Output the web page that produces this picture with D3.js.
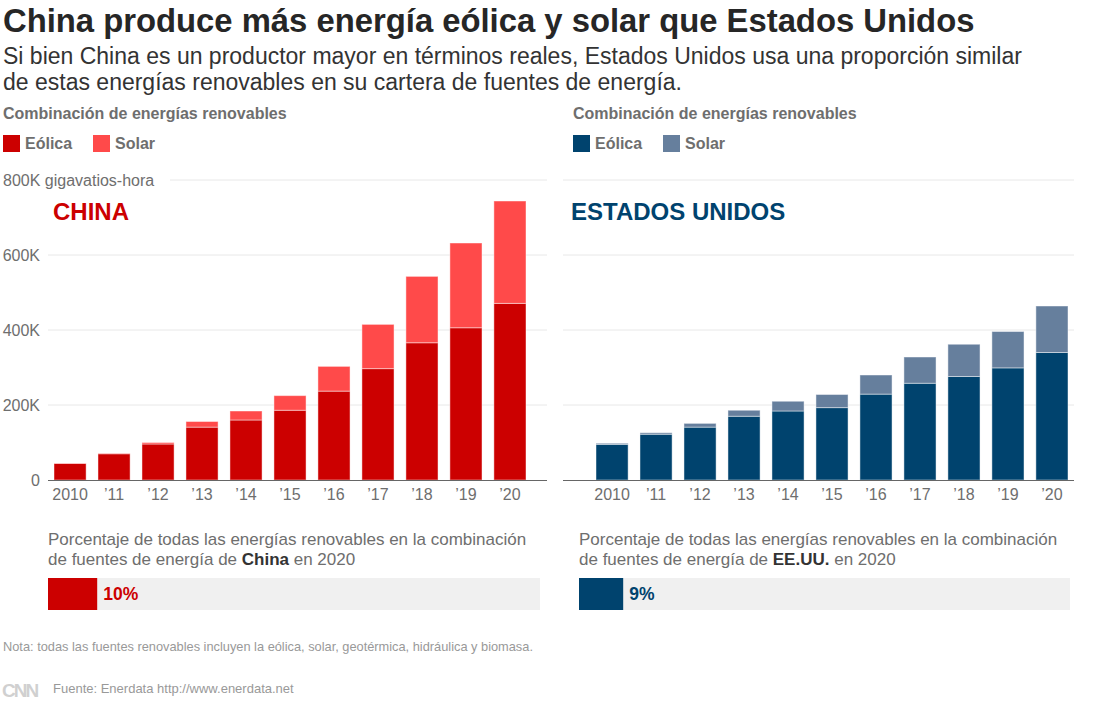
<!DOCTYPE html>
<html>
<head>
<meta charset="utf-8">
<script src="https://cdn.jsdelivr.net/npm/d3@7"></script>
<style>
  body { margin: 0; background: #fff; }
  svg { display: block; font-family: "Liberation Sans", Arial, sans-serif; }
  .tick-label { fill: #6e6e6e; font-size: 16px; }
  .grid { stroke: #e8e8e8; stroke-width: 1; }
</style>
</head>
<body>
<svg width="1110" height="709"></svg>
<script>
// values in thousands of gigawatt-hours
const years = ["2010", "’11", "’12", "’13", "’14", "’15", "’16", "’17", "’18", "’19", "’20"];
const chinaWind = [44, 70, 96, 141, 160, 186, 237, 297, 366, 406, 471];
const chinaSolar = [1, 1, 4, 15, 24, 39, 66, 118, 177, 226, 273];
const usWind = [95, 122, 141, 170, 184, 193, 229, 258, 276, 299, 340];
const usSolar = [3, 4, 10, 16, 26, 35, 51, 70, 86, 97, 124];
const yTicks = [0, 200, 400, 600, 800];
const shares = [10, 9];

const svg = d3.select("svg");

const yScale = d3.scaleLinear().domain([0, 800]).range([480, 180]);

// header
svg.append("text")
  .attr("x", 3).attr("y", 32)
  .style("font-size", "32.8px").style("font-weight", "bold").style("fill", "#262626")
  .text("China produce más energía eólica y solar que Estados Unidos");

const subLines = [
  "Si bien China es un productor mayor en términos reales, Estados Unidos usa una proporción similar",
  "de estas energías renovables en su cartera de fuentes de energía."
];
svg.selectAll("text.sub")
  .data(subLines)
  .enter()
  .append("text")
  .attr("class", "sub")
  .attr("x", 3)
  .attr("y", (d, i) => 64 + i * 26)
  .style("font-size", "23px").style("fill", "#333")
  .text(d => d);

const panels = [
  { name: "CHINA", label: "China", wind: chinaWind, solar: chinaSolar, share: shares[0],
    colors: ["#cc0000", "#ff4a4a"], left: 48, right: 547, bars: [54, 526], legendX: 3, nameX: 53,
    shareX: [48, 540], yLabels: true },
  { name: "ESTADOS UNIDOS", label: "EE.UU.", wind: usWind, solar: usSolar, share: shares[1],
    colors: ["#00436e", "#667f9d"], left: 563, right: 1074, bars: [596, 1068], legendX: 573, nameX: 571,
    shareX: [579, 1070], yLabels: false }
];

panels.forEach(p => {
  const g = svg.append("g");

  g.append("text")
    .attr("x", p.legendX).attr("y", 119)
    .style("font-size", "16px").style("font-weight", "bold").style("fill", "#6e6e6e")
    .text("Combinación de energías renovables");

  const legend = g.selectAll("g.legend")
    .data(["Eólica", "Solar"])
    .enter()
    .append("g")
    .attr("class", "legend")
    .attr("transform", (d, i) => `translate(${p.legendX + i * 90}, 135)`);
  legend.append("rect")
    .attr("width", 17).attr("height", 17)
    .style("fill", (d, i) => p.colors[i]);
  legend.append("text")
    .attr("x", 22).attr("y", 14)
    .style("font-size", "16px").style("font-weight", "bold").style("fill", "#6e6e6e")
    .text(d => d);

  // gridlines
  g.selectAll("line.grid")
    .data(yTicks.filter(d => d > 0))
    .enter()
    .append("line")
    .attr("class", "grid")
    .attr("x1", d => (d === 800 && p.yLabels) ? 170 : p.left)
    .attr("x2", p.right)
    .attr("y1", d => yScale(d)).attr("y2", d => yScale(d));

  if (p.yLabels) {
    g.selectAll("text.ylab")
      .data(yTicks)
      .enter()
      .append("text")
      .attr("class", "tick-label ylab")
      .attr("x", d => d === 800 ? 3 : 40)
      .attr("y", d => yScale(d) + 6)
      .attr("text-anchor", d => d === 800 ? "start" : "end")
      .text(d => d === 0 ? "0" : d === 800 ? "800K gigavatios-hora" : d + "K");
  }

  g.append("text")
    .attr("x", p.nameX).attr("y", 220)
    .style("font-size", "24px").style("font-weight", "bold").style("fill", p.colors[0])
    .text(p.name);

  const xScale = d3.scaleBand()
    .domain(years)
    .range(p.bars)
    .paddingInner(0.27)
    .paddingOuter(0);

  const stacked = d3.stack().keys([0, 1])(years.map((y, i) => [p.wind[i], p.solar[i]]));

  g.selectAll("g.series")
    .data(stacked)
    .enter()
    .append("g")
    .attr("class", "series")
    .style("fill", (d, i) => p.colors[i])
    .selectAll("rect")
    .data(d => d)
    .enter()
    .append("rect")
    .attr("x", (d, i) => xScale(years[i]))
    .attr("width", xScale.bandwidth())
    .attr("y", d => yScale(d[1]))
    .attr("height", d => yScale(d[0]) - yScale(d[1]))
    .style("stroke", "#fff").style("stroke-opacity", 0.45).style("stroke-width", 1);

  g.append("line")
    .attr("x1", p.left).attr("x2", p.right)
    .attr("y1", 480.5).attr("y2", 480.5)
    .style("stroke", "#666").style("stroke-width", 1.2);

  g.selectAll("text.xlab")
    .data(years)
    .enter()
    .append("text")
    .attr("class", "tick-label xlab")
    .attr("x", d => xScale(d) + xScale.bandwidth() / 2)
    .attr("y", 500)
    .attr("text-anchor", "middle")
    .text(d => d);

  // share of renewables
  const note = g.append("g").style("font-size", "17px").style("fill", "#6e6e6e");
  note.append("text").attr("x", p.shareX[0]).attr("y", 545)
    .text("Porcentaje de todas las energías renovables en la combinación");
  const l2 = note.append("text").attr("x", p.shareX[0]).attr("y", 565);
  l2.append("tspan").text("de fuentes de energía de ");
  l2.append("tspan").style("font-weight", "bold").style("fill", "#333").text(p.label);
  l2.append("tspan").text(" en 2020");

  const shareScale = d3.scaleLinear().domain([0, 100]).range(p.shareX);
  g.append("rect")
    .attr("x", p.shareX[0]).attr("y", 578)
    .attr("width", shareScale(100) - p.shareX[0]).attr("height", 32)
    .style("fill", "#f0f0f0");
  g.append("rect")
    .attr("x", p.shareX[0]).attr("y", 578)
    .attr("width", shareScale(p.share) - p.shareX[0]).attr("height", 32)
    .style("fill", p.colors[0]);
  g.append("text")
    .attr("x", shareScale(p.share) + 6).attr("y", 600)
    .style("font-size", "17.5px").style("font-weight", "bold").style("fill", p.colors[0])
    .text(p.share + "%");
});

// footer
svg.append("text")
  .attr("x", 3).attr("y", 651)
  .style("font-size", "12.8px").style("fill", "#999")
  .text("Nota: todas las fuentes renovables incluyen la eólica, solar, geotérmica, hidráulica y biomasa.");

svg.append("text")
  .attr("x", 2).attr("y", 697)
  .style("font-size", "19px").style("font-weight", "bold").style("fill", "#d0d0d0")
  .style("letter-spacing", "-2px")
  .text("CNN");

svg.append("text")
  .attr("x", 53).attr("y", 693)
  .style("font-size", "13px").style("fill", "#999")
  .text("Fuente:  Enerdata http://www.enerdata.net");
</script>
</body>
</html>
